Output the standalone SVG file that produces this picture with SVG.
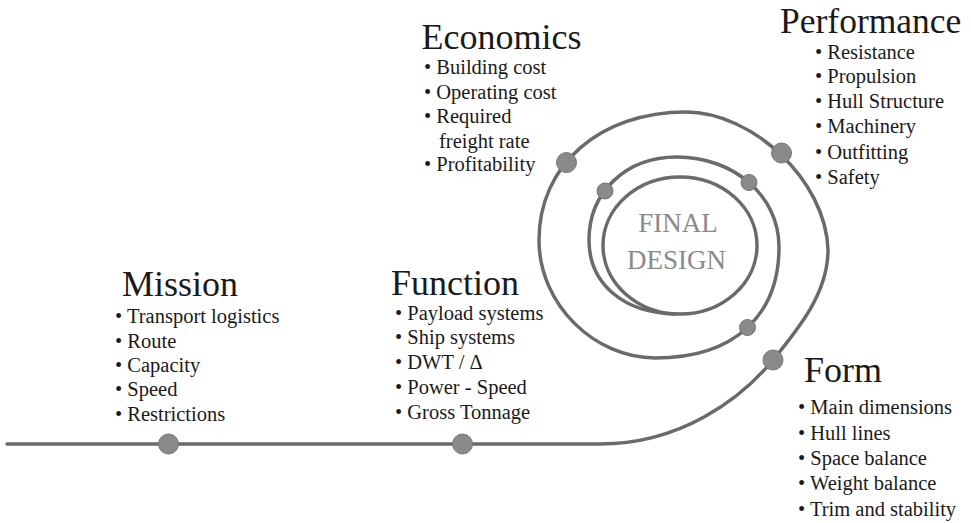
<svg xmlns="http://www.w3.org/2000/svg" width="971" height="523" viewBox="0 0 971 523">
<style>
.title{font-family:"Liberation Serif","Times New Roman",serif;font-size:36px;fill:#1a1a1a}
.item{font-family:"Liberation Serif","Times New Roman",serif;font-size:20.5px;fill:#1a1a1a}
.center{font-family:"Liberation Serif","Times New Roman",serif;font-size:27px;fill:#8a8a8a;text-anchor:middle}
.line{fill:none;stroke:#6a6a6a;stroke-width:3.5;stroke-linecap:round}
.dot{fill:#8a8a8a;stroke:#767676;stroke-width:1}
</style>
<rect width="971" height="523" fill="#ffffff"/>
<g id="connectors">
<path class="line" d="M 7 444 H 600 C 680 444, 740 400, 773 360 C 800 327, 828 292, 828 250 C 826 180, 752 112, 686 112 C 600 112, 539 165, 539 240 C 539 305, 595 358, 655 358 C 735 358, 779 315, 779 247 C 779 195, 733 157, 677 157 C 625 157, 589 193, 589 240 C 589 285, 625 313, 675 314"/>
<ellipse class="line" cx="680" cy="245.5" rx="77" ry="68.5"/>
</g>
<g id="final-design">
<text class="center" x="678" y="232">FINAL</text>
<text class="center" x="676.5" y="268.5">DESIGN</text>
</g>
<g id="mission">
<circle class="dot" cx="168.5" cy="444" r="10"/>
<text class="title" x="122" y="296">Mission</text>
<text class="item" x="115" y="323.3">• Transport logistics</text>
<text class="item" x="115" y="347.5">• Route</text>
<text class="item" x="115" y="371.5">• Capacity</text>
<text class="item" x="115" y="396">• Speed</text>
<text class="item" x="115" y="420.5">• Restrictions</text>
</g>
<g id="function">
<circle class="dot" cx="462.5" cy="444" r="10"/>
<text class="title" x="391" y="295">Function</text>
<text class="item" x="395" y="319.5">• Payload systems</text>
<text class="item" x="395" y="344">• Ship systems</text>
<text class="item" x="395" y="369">• DWT / Δ</text>
<text class="item" x="395" y="394">• Power - Speed</text>
<text class="item" x="395" y="419">• Gross Tonnage</text>
</g>
<g id="form">
<circle class="dot" cx="773" cy="360" r="10"/>
<text class="title" x="804" y="381.5">Form</text>
<text class="item" x="798" y="414">• Main dimensions</text>
<text class="item" x="798" y="439.5">• Hull lines</text>
<text class="item" x="798" y="465">• Space balance</text>
<text class="item" x="798" y="490">• Weight balance</text>
<text class="item" x="798" y="515.5">• Trim and stability</text>
</g>
<g id="performance">
<circle class="dot" cx="781.5" cy="153" r="10"/>
<text class="title" x="780" y="32.5" style="font-size:35.5px">Performance</text>
<text class="item" x="815" y="58.5">• Resistance</text>
<text class="item" x="815" y="83">• Propulsion</text>
<text class="item" x="815" y="108">• Hull Structure</text>
<text class="item" x="815" y="133">• Machinery</text>
<text class="item" x="815" y="158.5">• Outfitting</text>
<text class="item" x="815" y="183.5">• Safety</text>
</g>
<g id="economics">
<circle class="dot" cx="566.5" cy="162.5" r="10"/>
<text class="title" x="421.5" y="48.5">Economics</text>
<text class="item" x="424" y="74">• Building cost</text>
<text class="item" x="424" y="98.5">• Operating cost</text>
<text class="item" x="424" y="123">• Required</text>
<text class="item" x="439" y="147.5">freight rate</text>
<text class="item" x="424" y="171">• Profitability</text>
</g>
<g id="inner-dots">
<circle class="dot" cx="747.5" cy="327.5" r="8"/>
<circle class="dot" cx="749" cy="182.5" r="8"/>
<circle class="dot" cx="605" cy="191" r="8"/>
</g>
</svg>
